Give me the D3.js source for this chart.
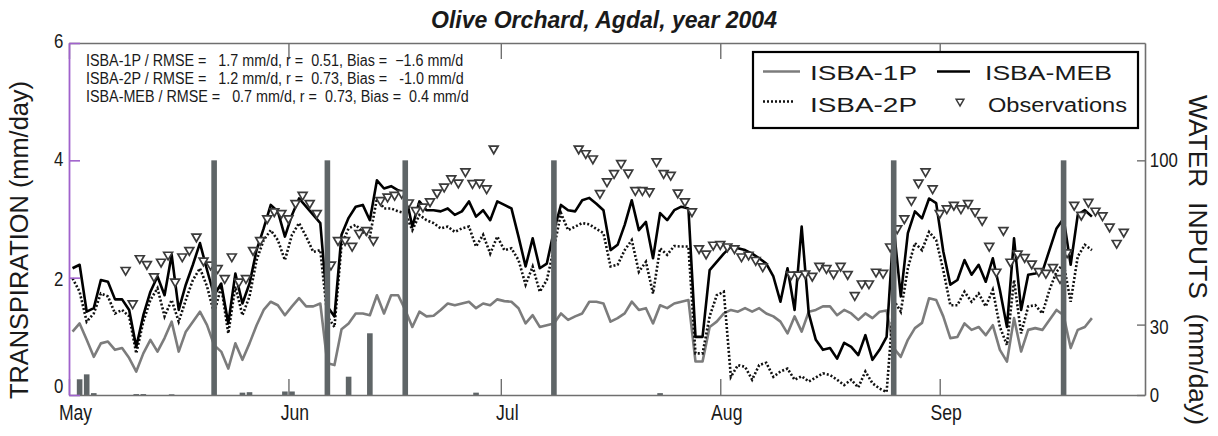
<!DOCTYPE html>
<html><head><meta charset="utf-8">
<script src="https://cdn.jsdelivr.net/npm/d3@7"></script>
<style>
body{margin:0;background:#fff}
svg{display:block}
text{font-family:"Liberation Sans",Arial,Helvetica,sans-serif;fill:#1a1a1a}
</style>
</head><body>
<svg id="chart" width="1218" height="436"></svg>
<script>
// ---- data (daily values, index 0 = 1 May 2004) ----
const isba1p = [1.08,1.22,0.94,0.65,0.88,0.91,0.77,0.80,0.63,0.40,
0.71,0.94,0.74,0.97,1.25,0.74,1.08,1.25,1.42,1.19,
0.85,0.74,0.45,0.88,0.60,0.88,1.19,1.45,1.59,1.53,
1.36,1.51,1.65,1.51,1.51,1.56,0.54,0.51,1.12,1.22,
1.39,1.39,1.36,1.70,1.39,1.70,1.70,1.45,1.16,1.42,
1.34,1.35,1.45,1.56,1.53,1.56,1.59,1.48,1.56,1.53,
1.63,1.60,1.59,1.48,1.22,1.36,1.16,1.19,1.22,1.39,
1.28,1.34,1.39,1.59,1.59,1.56,1.25,1.31,1.39,1.59,
1.45,1.48,1.22,1.53,1.48,1.56,1.59,1.62,0.57,0.57,
1.16,1.25,1.39,1.45,1.42,1.48,1.42,1.48,1.39,1.34,
1.25,1.05,1.34,1.08,1.42,1.45,1.51,1.51,1.36,1.45,
1.39,1.28,1.39,1.31,1.42,1.44,0.80,0.65,0.94,1.14,
1.23,1.65,1.62,1.34,0.97,0.99,1.22,1.11,1.16,1.02,
1.19,0.77,0.57,1.31,0.74,1.11,1.14,1.11,1.28,1.45,
1.36,0.80,1.11,1.16,1.31];

const isba2p = [1.99,1.76,1.25,1.39,1.73,1.68,1.39,1.45,1.34,0.71,
1.25,1.62,1.82,1.34,1.62,1.25,1.62,1.96,2.16,1.85,
1.39,1.85,1.05,1.85,1.36,1.68,2.30,2.64,2.81,2.64,
2.30,2.73,2.93,2.70,2.44,2.47,1.34,1.16,2.56,2.84,
2.90,2.78,2.70,3.35,3.18,3.18,3.13,3.10,2.81,3.07,
2.98,2.93,2.84,2.87,2.78,2.84,2.87,2.53,2.73,2.41,
2.70,2.47,2.50,2.30,1.88,2.19,1.76,1.96,2.50,3.10,
2.81,2.87,2.93,2.91,2.83,2.76,2.19,2.22,2.47,2.64,
2.10,2.27,1.73,2.50,2.39,2.54,2.53,2.53,0.71,0.71,
1.34,1.70,1.76,0.31,0.51,0.48,0.26,0.51,0.55,0.31,
0.40,0.45,0.26,0.32,0.23,0.30,0.37,0.34,0.26,0.17,
0.26,0.13,0.40,0.20,0.11,0.05,1.62,1.42,2.16,2.59,
2.47,2.78,2.64,2.13,1.53,1.53,1.76,1.59,1.73,1.51,
1.79,1.16,0.85,1.96,1.05,1.51,1.53,1.39,1.79,2.10,
2.24,1.59,2.36,2.56,2.47];

const isbaMeb = [2.16,2.22,1.42,1.48,1.96,1.93,1.63,1.63,1.45,0.82,
1.36,1.76,2.02,1.70,2.39,1.45,1.88,2.22,2.59,2.13,
1.70,1.90,1.22,2.07,1.56,1.90,2.47,2.84,3.24,3.13,
2.70,3.07,3.35,3.21,3.07,2.93,1.51,1.34,2.73,3.02,
3.21,3.24,2.98,3.66,3.52,3.56,3.49,3.44,2.87,3.30,
3.15,3.15,3.13,3.18,3.07,3.13,3.30,3.04,3.15,2.98,
3.30,3.24,3.18,2.70,2.19,2.67,2.16,2.24,2.80,3.24,
3.15,3.13,3.32,3.36,3.26,3.15,2.47,2.56,2.90,3.32,
2.81,2.95,2.33,3.10,2.98,3.15,3.21,3.18,0.99,0.99,
2.13,2.27,2.41,2.53,2.50,2.47,2.41,2.33,2.24,2.02,
1.59,2.16,1.45,2.87,1.39,0.94,0.77,0.80,0.62,0.89,
0.82,0.68,1.02,0.60,0.77,0.99,2.87,1.68,2.76,3.13,
3.01,3.35,3.27,2.45,1.88,1.96,2.30,2.05,2.22,1.93,
2.33,1.79,1.16,2.67,1.45,2.05,2.07,2.10,2.47,2.84,
3.01,2.22,3.07,3.15,3.04];

const obsDays = [8,9,10,11,12,13,14,15,16,17,18,19,20,21,22,23,24,25,26,27,28,29,30,31,32,33,34,35,
37,38,39,40,41,42,43,44,45,46,47,48,49,50,51,52,53,54,55,56,57,58,59,60,
72,73,74,75,76,77,78,79,80,81,82,83,84,85,86,87,88,89,90,91,92,93,94,95,96,97,98,
102,103,104,105,106,107,108,109,110,111,112,113,114,115,116,117,118,119,120,121,122,123,124,125,
126,127,128,129,130,131,132,133,134,135,136,137,138,139,140,141,142,143,144,145,146,147,148,149];
const obsValues = [2.13,1.56,2.33,2.23,2.02,2.27,2.39,1.93,2.36,2.47,2.70,2.29,2.22,2.16,1.99,2.36,1.93,1.99,2.47,2.64,3.01,3.13,3.10,3.01,3.27,3.41,3.27,3.10,
2.22,2.64,2.64,2.54,2.76,2.81,2.64,3.32,3.38,3.41,3.44,3.28,3.15,3.21,3.30,3.45,3.55,3.69,3.62,3.81,3.61,3.62,3.52,4.20,
4.20,4.12,4.03,3.44,3.64,3.78,3.95,3.79,3.49,3.49,3.47,3.98,3.78,3.75,3.45,3.30,3.13,2.50,2.41,2.56,2.57,2.53,2.50,2.36,2.39,2.30,2.19,
2.05,2.05,2.07,2.03,2.20,2.16,2.07,2.20,2.06,1.70,1.90,1.90,2.10,2.08,2.53,2.84,3.01,3.32,3.62,3.81,3.52,3.10,3.18,3.24,
3.18,3.27,3.13,2.98,2.54,2.10,2.81,2.27,2.41,2.35,2.24,2.11,2.08,2.18,1.99,2.43,3.24,3.07,3.29,3.14,3.06,2.87,2.59,2.78];

const waterDays   = [1,2,3,9,10,14,20,24,25,30,31,36,39,42,47,57,68,83,116,140];
const waterValues = [6.7,8.8,0.8,0.4,0.4,0.3,100,1.0,1.2,1.5,1.5,100,7.8,26.3,100,1.0,100,0.8,100,100];

const monthTicks = ["2004-05-01","2004-06-01","2004-07-01","2004-08-01","2004-09-01"];
const leftTicks  = [0,2,4,6];
const rightTicks = [0,30,100];
const titleText  = "Olive Orchard, Agdal, year 2004";
const statsLines = [
  "ISBA-1P / RMSE =   1.7 mm/d, r =  0.51, Bias =  \u22121.6 mm/d",
  "ISBA-2P / RMSE =   1.2 mm/d, r =  0.73, Bias =   -1.0 mm/d",
  "ISBA-MEB / RMSE =   0.7 mm/d, r =  0.73, Bias =  0.4 mm/d"
];
const legendLabels = ["ISBA-1P","ISBA-MEB","ISBA-2P","Observations"];

// ---- layout ----
const W = 1218, H = 436;
const L = 69, R = 1145, T = 43, B = 395;
const svg = d3.select("#chart");
svg.append("rect").attr("width",W).attr("height",H).attr("fill","#fff");

const day = (k, h=0) => new Date(2004, 4, 1 + k, h);
const x  = d3.scaleTime().domain([new Date(2004,4,1), new Date(2004,8,30)]).range([L, R]);
const yL = d3.scaleLinear().domain([0,6]).range([B, T]);
const yR = d3.scaleLinear().domain([0,150]).range([B, T]);
const monthDates = monthTicks.map(s => { const p = s.split("-"); return new Date(+p[0], +p[1]-1, +p[2]); });

const AXGRAY = "#6f6f6f", PURPLE = "#a062cc";

// ---- lines ----
const line = d3.line().x((v,i) => x(day(i,12))).y(v => yL(v));
const plot = svg.append("g");
plot.append("path").datum(isba1p).attr("d", line).attr("fill","none")
  .attr("stroke","#7c7c7c").attr("stroke-width",2.6).attr("stroke-linejoin","round");
plot.append("path").datum(isba2p).attr("d", line).attr("fill","none")
  .attr("stroke","#111").attr("stroke-width",2.6).attr("stroke-dasharray","2,2");
plot.append("path").datum(isbaMeb).attr("d", line).attr("fill","none")
  .attr("stroke","#000").attr("stroke-width",2.6).attr("stroke-linejoin","round");

// ---- observations ----
const tri = d3.symbol().type(d3.symbolTriangle).size(34);
plot.selectAll("path.obs").data(obsDays).join("path").attr("class","obs")
  .attr("d", tri)
  .attr("transform", (d,i) => `translate(${x(day(d))},${yL(obsValues[i])}) rotate(180)`)
  .attr("fill","#fff").attr("stroke","#3a3a3a").attr("stroke-width",1.7);

// ---- water inputs ----
const bw = 5.6;
plot.selectAll("rect.w").data(waterDays).join("rect").attr("class","w")
  .attr("x", d => x(day(d,12)) - bw/2)
  .attr("width", bw)
  .attr("y", (d,i) => yR(waterValues[i]))
  .attr("height", (d,i) => yR(0) - yR(waterValues[i]))
  .attr("fill","#5f6567");

// ---- axes ----
const narrow = (sel, f) => sel.attr("transform", function(){
  const ex = d3.select(this).attr("data-dx") || 0; return `translate(${ex},0) scale(${f},1)`; });

const gB = svg.append("g").attr("transform",`translate(0,${B})`)
  .call(d3.axisBottom(x).tickValues(monthDates).tickFormat(d3.timeFormat("%b"))
        .tickSizeInner(-16).tickSizeOuter(0).tickPadding(9));
gB.select(".domain").attr("stroke",AXGRAY).attr("stroke-width",1.6);
gB.selectAll(".tick line").attr("stroke",AXGRAY).attr("stroke-width",1.4);
gB.selectAll(".tick text").attr("font-size",22).attr("fill","#1a1a1a")
  .attr("font-family","Liberation Sans, Arial, sans-serif")
  .attr("data-dx",6).call(narrow,0.8);

const gT = svg.append("g").attr("transform",`translate(0,${T})`)
  .call(d3.axisTop(x).tickValues(monthDates).tickFormat("").tickSizeInner(-16).tickSizeOuter(0));
gT.select(".domain").attr("stroke",AXGRAY).attr("stroke-width",1.6);
gT.selectAll(".tick line").attr("stroke",AXGRAY).attr("stroke-width",1.4);

const leftDy = {0:"-0.14em", 2:"0.36em", 4:"0.24em", 6:"0.2em"};
const gL = svg.append("g").attr("transform",`translate(${L},0)`)
  .call(d3.axisLeft(yL).tickValues(leftTicks).tickFormat(d3.format("d"))
        .tickSizeInner(-11).tickSizeOuter(0).tickPadding(7));
gL.select(".domain").attr("stroke",PURPLE).attr("stroke-width",1.8);
gL.selectAll(".tick line").attr("stroke",PURPLE).attr("stroke-width",1.6);
gL.selectAll(".tick text").attr("font-size",21).attr("fill","#1a1a1a")
  .attr("font-family","Liberation Sans, Arial, sans-serif")
  .attr("dy", d => leftDy[d]).call(narrow,0.8);

const gR = svg.append("g").attr("transform",`translate(${R},0)`)
  .call(d3.axisRight(yR).tickValues(rightTicks).tickFormat(d3.format("d"))
        .tickSizeInner(-8).tickSizeOuter(0).tickPadding(6));
gR.select(".domain").attr("stroke",AXGRAY).attr("stroke-width",1.6);
gR.selectAll(".tick line").attr("stroke",AXGRAY).attr("stroke-width",1.4);
gR.selectAll(".tick text").attr("font-size",21).attr("fill","#1a1a1a")
  .attr("font-family","Liberation Sans, Arial, sans-serif")
  .attr("dy", d => d === 30 ? "0.42em" : "0.3em").call(narrow,0.8);

// ---- titles ----
svg.append("text").attr("x",604).attr("y",28).attr("text-anchor","middle")
  .attr("font-size",23).attr("font-weight","bold").attr("font-style","italic")
  .attr("textLength",346).attr("lengthAdjust","spacingAndGlyphs").text(titleText);

svg.append("text").attr("transform","translate(28,240) rotate(-90)")
  .attr("text-anchor","middle").attr("font-size",25)
  .attr("textLength",318).attr("lengthAdjust","spacingAndGlyphs")
  .text("TRANSPIRATION (mm/day)");

svg.append("text").attr("transform","translate(1189,260) rotate(90)")
  .attr("text-anchor","middle").attr("font-size",25).style("white-space","pre")
  .attr("textLength",330).attr("lengthAdjust","spacingAndGlyphs")
  .text("WATER  INPUTS  (mm/day)");

// ---- statistics text ----
const statY = [65.5, 83.5, 101.5];
statsLines.forEach((s,i) => {
  svg.append("g").attr("transform",`translate(86,${statY[i]}) scale(0.92,1)`)
    .append("text").attr("font-size",15.6).style("white-space","pre").text(s);
});

// ---- legend ----
const lg = svg.append("g");
lg.append("rect").attr("x",753).attr("y",52).attr("width",385).attr("height",76)
  .attr("fill","#fff").attr("stroke","#000").attr("stroke-width",2.2);
const r1 = 71.5, r2 = 101.5;
lg.append("line").attr("x1",763).attr("x2",800).attr("y1",r1).attr("y2",r1)
  .attr("stroke","#7c7c7c").attr("stroke-width",2.6);
lg.append("line").attr("x1",937).attr("x2",970).attr("y1",r1).attr("y2",r1)
  .attr("stroke","#000").attr("stroke-width",2.6);
lg.append("line").attr("x1",763).attr("x2",795).attr("y1",r2).attr("y2",r2)
  .attr("stroke","#111").attr("stroke-width",2.6).attr("stroke-dasharray","2,2");
lg.append("path").attr("d", d3.symbol().type(d3.symbolTriangle).size(26)())
  .attr("transform",`translate(960,${r2}) rotate(180)`)
  .attr("fill","#fff").attr("stroke","#3a3a3a").attr("stroke-width",1.5);
const legPos = [[810,79.5,107],[985,79.5,127],[810,111.8,107],[988,111.8,139]];
legendLabels.forEach((t,i) => {
  lg.append("text").attr("x",legPos[i][0]).attr("y",legPos[i][1]).attr("font-size",20)
    .attr("textLength",legPos[i][2]).attr("lengthAdjust","spacingAndGlyphs").attr("fill","#222").text(t);
});
</script>
</body></html>
